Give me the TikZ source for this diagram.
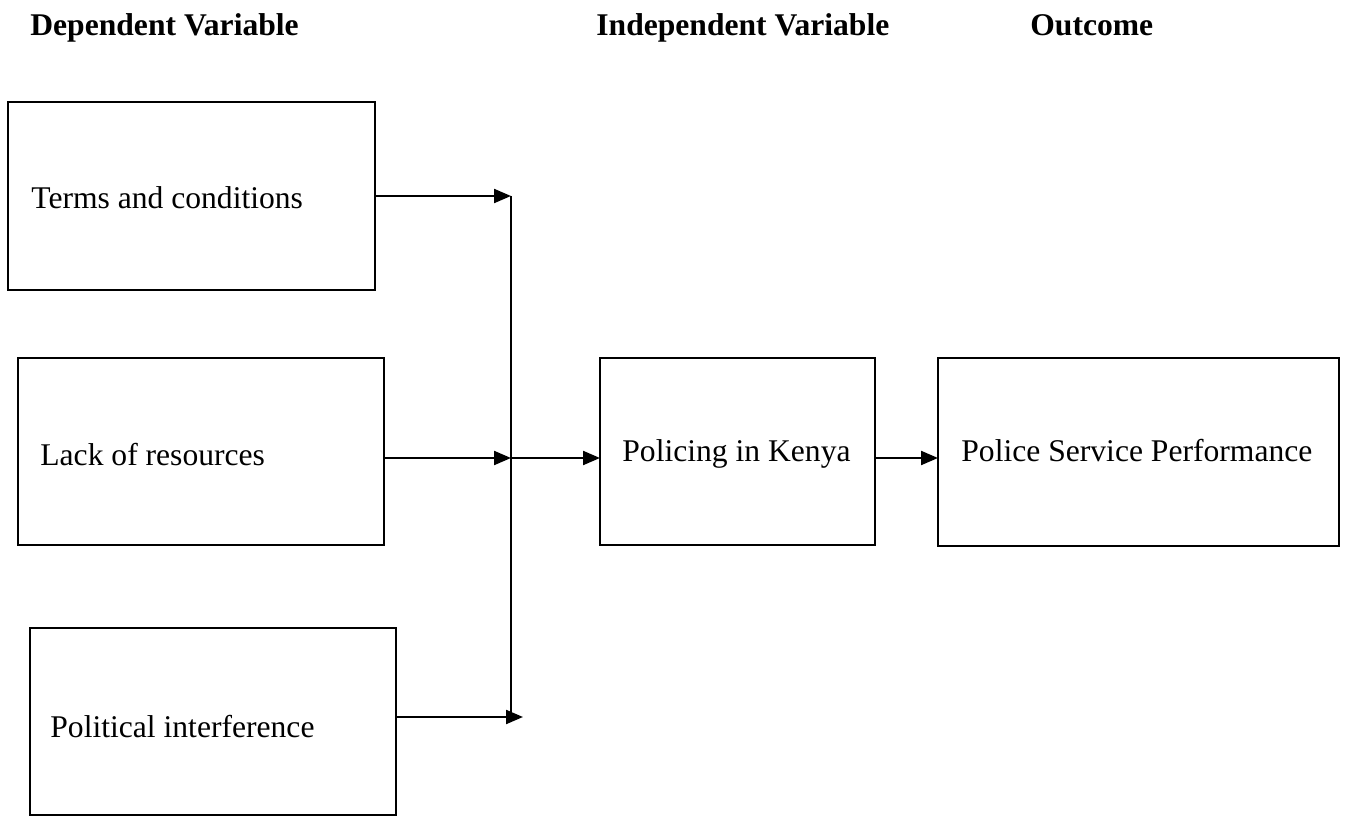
\documentclass[tikz,border=0pt]{standalone}
\usepackage{fontspec}
\setmainfont{Liberation Serif}
\usetikzlibrary{arrows.meta}
\begin{document}
\begin{tikzpicture}[x=0.5pt,y=-0.5pt,
  box/.style={draw, line width=1.1pt, inner sep=0pt, outer sep=0pt, anchor=north west},
  lbl/.style={anchor=base west, inner sep=0pt, font=\fontsize{15.8pt}{18pt}\selectfont},
  head/.style={anchor=base west, inner sep=0pt, font=\fontsize{15.8pt}{18pt}\selectfont\bfseries},
  conn/.style={line width=1.1pt},
  arr/.style={line width=1.1pt, -{Triangle[length=8.5pt,width=7pt]}}]
\useasboundingbox (0,0) rectangle (1346,818);
% headers
\node[head] (h1) at (30,36) {Dependent Variable};
\node[head] (h2) at (596,36) {Independent Variable};
\node[head] (h3) at (1030,36) {Outcome};
% boxes
\node[box, minimum width=183.5pt, minimum height=94pt] (terms) at (8,102) {};
\node[box, minimum width=183pt, minimum height=93.5pt] (lack) at (18,358) {};
\node[box, minimum width=183pt, minimum height=93.5pt] (polit) at (30,628) {};
\node[box, minimum width=137.5pt, minimum height=93.5pt] (kenya) at (600,358) {};
\node[box, minimum width=200.5pt, minimum height=94pt] (perf) at (938,358) {};
% labels
\node[lbl] (t1) at (31,209) {Terms and conditions};
\node[lbl] (t2) at (40,466) {Lack of resources};
\node[lbl] (t3) at (50,737) {Political interference};
\node[lbl] (t4) at (622,462) {Policing in Kenya};
\node[lbl] (t5) at (961,462) {Police Service Performance};
% junction coordinates
\coordinate (vt) at (511,196);
\coordinate (vm) at (511,458);
\coordinate (vb) at (511,717);
\coordinate (vbt) at (523,717);
% connectors
\draw[conn] (vt) -- (vb);
\draw[arr] (terms.east |- vt) -- (vt);
\draw[arr] (lack.east |- vm) -- (vm);
\draw[arr] (polit.east |- vb) -- (vbt);
\draw[arr] (vm) -- (kenya.west |- vm);
\draw[arr] (kenya.east |- vm) -- (perf.west |- vm);
\end{tikzpicture}
\end{document}
